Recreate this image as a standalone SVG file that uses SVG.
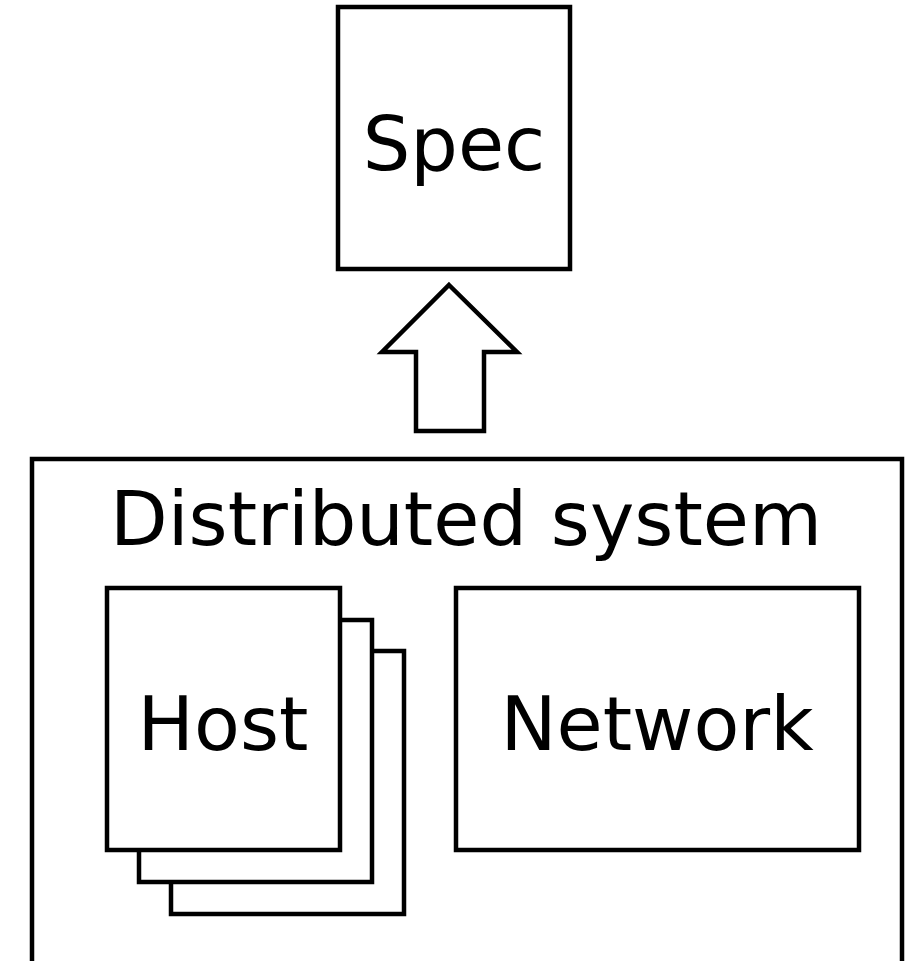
<svg xmlns="http://www.w3.org/2000/svg" width="914" height="961" viewBox="0 0 914 961">
<style>
.box{fill:#fff;stroke:#000;stroke-width:4.5}
.lbl{font-family:"DejaVu Sans",sans-serif;font-size:75px;fill:#000;text-anchor:middle}
</style>
<rect width="914" height="961" fill="#fff"/>
<g id="spec">
<rect class="box" x="338" y="7" width="232" height="262"/>
<text class="lbl" x="454" y="170">Spec</text>
</g>
<g id="connectors">
<path class="box" d="M449,285 L517,352 L484,352 L484,431 L416,431 L416,352 L382,352 Z"/>
</g>
<g id="distributed-system">
<rect class="box" x="32" y="459" width="870" height="530"/>
<text class="lbl" x="466" y="545">Distributed system</text>
</g>
<g id="host">
<rect class="box" x="171" y="651" width="233" height="263"/>
<rect class="box" x="139" y="620" width="233" height="262"/>
<rect class="box" x="107" y="588" width="233" height="262"/>
<text class="lbl" x="223" y="750">Host</text>
</g>
<g id="network">
<rect class="box" x="456" y="588" width="403" height="262"/>
<text class="lbl" x="657" y="750">Network</text>
</g>
</svg>
